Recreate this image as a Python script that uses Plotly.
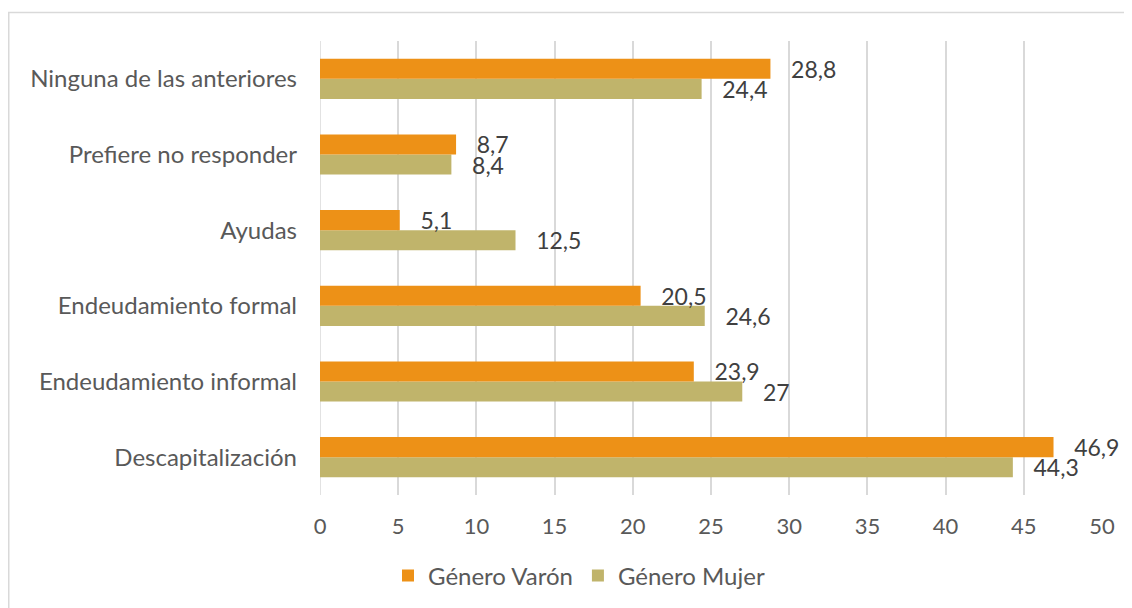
import plotly.graph_objects as go

categories = ["Descapitalización", "Endeudamiento informal", "Endeudamiento formal",
              "Ayudas", "Prefiere no responder", "Ninguna de las anteriores"]
varon = [46.9, 23.9, 20.5, 5.1, 8.7, 28.8]
mujer = [44.3, 27, 24.6, 12.5, 8.4, 24.4]
x_ticks = [0, 5, 10, 15, 20, 25, 30, 35, 40, 45, 50]

FONT = "Lato"
PAD = "\u00a0\u00a0\u00a0"

def lab(v):
    return PAD + f"{v:g}".replace(".", ",")

fig = go.Figure()
fig.add_trace(go.Bar(
    y=categories, x=mujer, orientation="h", name="Género Mujer",
    marker=dict(color="#C0B46B", line=dict(width=0)),
    text=[lab(v) for v in mujer], textposition="outside", cliponaxis=False,
    constraintext="none",
    textfont=dict(family=FONT, size=23, color="#404040"),
))
fig.add_trace(go.Bar(
    y=categories, x=varon, orientation="h", name="Género Varón",
    marker=dict(color="#ED9117", line=dict(width=0)),
    text=[lab(v) for v in varon], textposition="outside", cliponaxis=False,
    constraintext="none",
    textfont=dict(family=FONT, size=23, color="#404040"),
))

# page body has an 8px margin; figure coordinates are offset by it
OFF = 8
W, H = 1124, 600
L, R, T = 320 - OFF, 30, 41 - OFF
B = H - (494.6 - OFF)
pw = W - L - R
ph = H - T - B

fig.update_layout(
    width=W, height=H,
    margin=dict(l=L, r=R, t=T, b=B, autoexpand=False),
    barmode="group", bargap=0.47, bargroupgap=0,
    plot_bgcolor="white", paper_bgcolor="white",
    font=dict(family=FONT, size=22, color="#595959"),
    showlegend=True,
    legend=dict(orientation="h", traceorder="reversed",
                xref="container", yref="container",
                x=(579 - OFF) / W, y=1 - (576 - OFF) / H,
                xanchor="center", yanchor="middle",
                font=dict(family=FONT, size=24, color="#595959"),
                itemwidth=30),
    xaxis=dict(range=[0, 50], tickvals=x_ticks, showgrid=True,
               gridcolor="#D9D9D9", gridwidth=1.5, zeroline=False,
               showline=False, ticks="", ticklabelstandoff=16,
               tickfont=dict(family=FONT, size=22, color="#595959")),
    yaxis=dict(showgrid=False, showline=False, ticks="", ticklabelstandoff=22,
               tickfont=dict(family=FONT, size=24, color="#595959")),
    shapes=[dict(type="rect", xref="paper", yref="paper",
                 x0=(0.75 - L) / pw, x1=(W + 20 - L) / pw,
                 y0=(H - B - (H + 20)) / ph, y1=(H - B - 4.5) / ph,
                 line=dict(color="#D9D9D9", width=1.5), fillcolor="rgba(0,0,0,0)",
                 layer="below"),
           dict(type="line", xref="x", yref="paper", x0=0, x1=0, y0=0, y1=1,
                line=dict(color="#D9D9D9", width=1.5), layer="below")],
)

fig.write_html("out.html")
